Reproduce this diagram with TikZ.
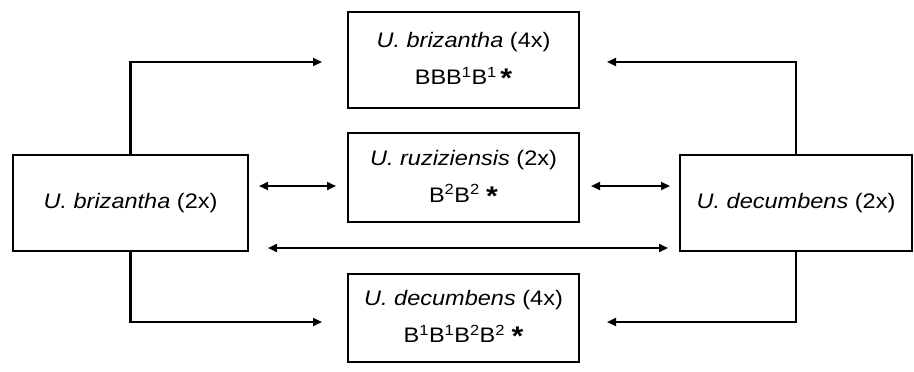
\documentclass[tikz,border=0pt]{standalone}
\usepackage{fontspec}
\setmainfont{Liberation Sans}[FakeStretch=1.12]
\usetikzlibrary{arrows.meta,calc}
\newcommand{\bigast}{\raisebox{-3pt}{\fontsize{27}{0}\selectfont\bfseries *}}
\tikzset{
  tip/.tip={Triangle[length=9pt,width=8pt]},
  box/.style={draw, line width=2pt, minimum width=#1, inner sep=0pt, align=center,
    font=\fontsize{21}{37}\selectfont},
  link/.style={line width=2.2pt, -tip},
  twoway/.style={line width=2.2pt, tip-tip}
}
\begin{document}
\begin{tikzpicture}[x=1pt,y=-1pt]
  \useasboundingbox (0,0) rectangle (914,372);
  % species boxes
  \node[box=235pt, minimum height=96pt] (L) at (130.5,203) {\textit{U. brizantha} (2x)};
  \node[box=232pt, minimum height=96pt] (R) at (796,203) {\textit{U. decumbens} (2x)};
  \node[box=231pt, minimum height=96pt] (T) at (463.5,60)
    {\textit{U. brizantha} (4x)\\BBB\textsuperscript{1}B\textsuperscript{1}\,\bigast};
  \node[box=231pt, minimum height=89pt] (M) at (463.5,177.5)
    {\textit{U. ruziziensis} (2x)\\B\textsuperscript{2}B\textsuperscript{2} \bigast};
  \node[box=231pt, minimum height=88pt] (B) at (463.5,318)
    {\textit{U. decumbens} (4x)\\B\textsuperscript{1}B\textsuperscript{1}B\textsuperscript{2}B\textsuperscript{2} \bigast};
  % arrow end points
  \coordinate (tl) at ($(T.west)+(-25,2)$);
  \coordinate (tr) at ($(T.east)+(27,2)$);
  \coordinate (bl) at ($(B.west)+(-25,4)$);
  \coordinate (br) at ($(B.east)+(27,4)$);
  \coordinate (lm1) at ($(L.east)+(10,-17)$);
  \coordinate (lm2) at ($(M.west)+(-11,8.5)$);
  \coordinate (mr1) at ($(M.east)+(11,8.5)$);
  \coordinate (mr2) at ($(R.west)+(-9,-17)$);
  \coordinate (lr1) at ($(L.east)+(19,45)$);
  \coordinate (lr2) at ($(R.west)+(-11,45)$);
  % connectors
  \draw[link] (L.north) |- (tl);
  \draw[link] (R.north) |- (tr);
  \draw[link] (L.south) |- (bl);
  \draw[link] (R.south) |- (br);
  \draw[twoway] (lm1) -- (lm2);
  \draw[twoway] (mr1) -- (mr2);
  \draw[twoway] (lr1) -- (lr2);
\end{tikzpicture}
\end{document}
